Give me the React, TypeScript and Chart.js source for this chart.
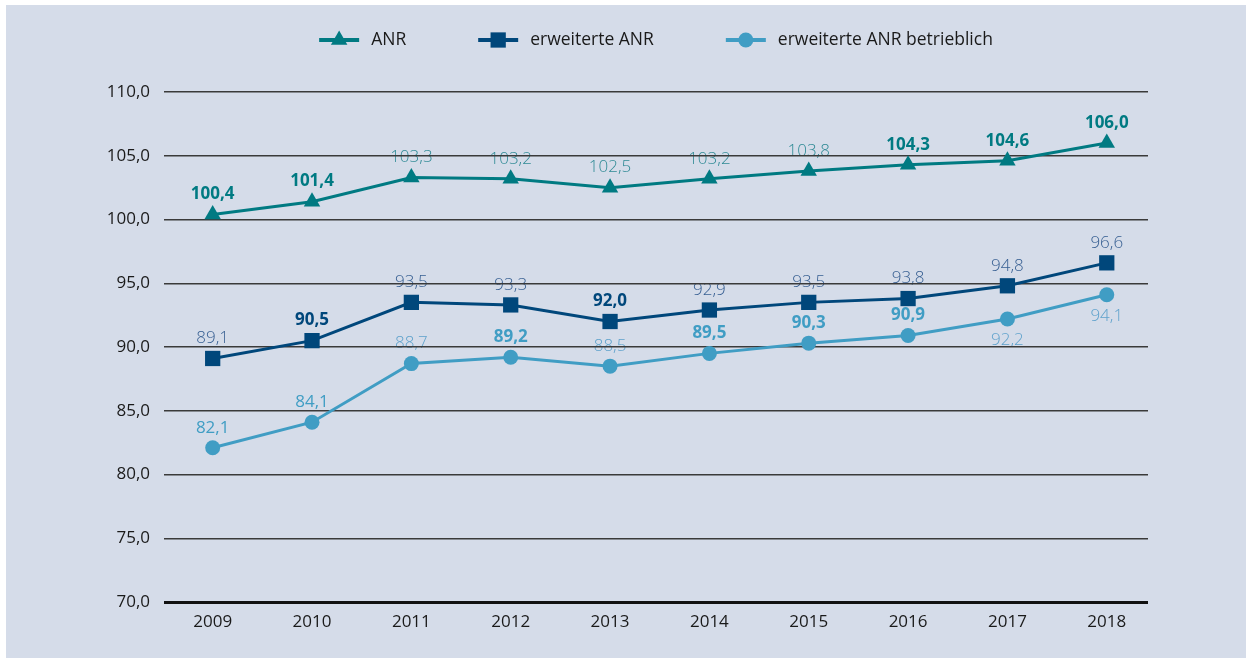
import React, { useEffect, useRef } from "react";
import { Chart, registerables } from "chart.js";

Chart.register(...registerables);

// ---- data ----
const years = [2009, 2010, 2011, 2012, 2013, 2014, 2015, 2016, 2017, 2018];
const anr = [100.4, 101.4, 103.3, 103.2, 102.5, 103.2, 103.8, 104.3, 104.6, 106.0];
const erwAnr = [89.1, 90.5, 93.5, 93.3, 92.0, 92.9, 93.5, 93.8, 94.8, 96.6];
const erwAnrBetr = [82.1, 84.1, 88.7, 89.2, 88.5, 89.5, 90.3, 90.9, 92.2, 94.1];
const seriesNames = ["ANR", "erweiterte ANR", "erweiterte ANR betrieblich"];
const yTicks = [70, 75, 80, 85, 90, 95, 100, 105, 110];

// label emphasis per point: 1 = bold, 0 = light, 2 = regular
const anrEmph = [1, 1, 0, 0, 0, 0, 0, 1, 1, 1];
const erwEmph = [0, 1, 0, 0, 1, 0, 0, 0, 0, 0];
const betrEmph = [2, 2, 0, 1, 0, 1, 1, 1, 0, 0];
// label placed below the point
const anrBelow = [false, false, false, false, false, false, false, false, false, false];
const erwBelow = [false, false, false, false, false, false, false, false, false, false];
const betrBelow = [false, false, false, false, false, false, false, false, true, true];

// ---- styles ----
const FONT = '"Open Sans", "Noto Sans", sans-serif';
const BG = "#d5dce9";
const colors = ["#007a82", "#00477b", "#409dc4"];
const lightColors = ["#2f8a95", "#375f92", "#5fa2cc"];
const pointStyles = ["triangle", "rect", "circle"];
const pointRadii = [9.5, 10.8, 7.5];

const emph = [anrEmph, erwEmph, betrEmph];
const below = [anrBelow, erwBelow, betrBelow];
const series = [anr, erwAnr, erwAnrBetr];

const fmt = (v: number) => v.toFixed(1).replace(".", ",");

function drawMarker(ctx: CanvasRenderingContext2D, style: string, x: number, y: number, r: number, color: string) {
  ctx.fillStyle = color;
  ctx.beginPath();
  if (style === "triangle") {
    ctx.moveTo(x, y - r);
    ctx.lineTo(x + Math.sin((2 * Math.PI) / 3) * r, y + r / 2);
    ctx.lineTo(x - Math.sin((2 * Math.PI) / 3) * r, y + r / 2);
    ctx.closePath();
  } else if (style === "rect") {
    const s = r * Math.SQRT1_2;
    ctx.rect(x - s, y - s, 2 * s, 2 * s);
  } else {
    ctx.arc(x, y, r, 0, Math.PI * 2);
  }
  ctx.fill();
}

function drawLabels(chart: any, lightPass: boolean) {
  const ctx: CanvasRenderingContext2D = chart.ctx;
  ctx.save();
  ctx.textAlign = "center";
  ctx.textBaseline = "middle";
  chart.data.datasets.forEach((_ds: any, di: number) => {
    const meta = chart.getDatasetMeta(di);
    meta.data.forEach((pt: any, i: number) => {
      const kind = emph[di][i];
      const isLight = kind === 0;
      if (isLight !== lightPass) return;
      const weight = kind === 1 ? "bold" : kind === 0 ? "300" : "normal";
      ctx.font = `${weight} 17px ${FONT}`;
      ctx.fillStyle = isLight ? lightColors[di] : colors[di];
      const dy = below[di][i] ? 21 : -20;
      ctx.fillText(fmt(series[di][i]), pt.x, pt.y + dy);
    });
  });
  ctx.restore();
}

const labelPlugin = {
  id: "valueLabels",
  beforeDraw(chart: any) {
    drawLabels(chart, true);
  },
  afterDatasetsDraw(chart: any) {
    drawLabels(chart, false);
  },
};

const legendPlugin = {
  id: "customLegend",
  afterDraw(chart: any) {
    const ctx: CanvasRenderingContext2D = chart.ctx;
    const area = chart.chartArea;
    ctx.save();
    ctx.font = `17.5px ${FONT}`;
    const symW = 40;
    const gapSym = 12;
    const gapItem = 72;
    const widths = seriesNames.map((n) => ctx.measureText(n).width);
    const total = widths.reduce((a, w) => a + symW + gapSym + w, 0) + gapItem * (seriesNames.length - 1);
    let x = (area.left + area.right) / 2 - total / 2;
    const y = 35;
    seriesNames.forEach((name, i) => {
      ctx.strokeStyle = colors[i];
      ctx.lineWidth = 4;
      ctx.beginPath();
      ctx.moveTo(x, y);
      ctx.lineTo(x + symW, y);
      ctx.stroke();
      drawMarker(ctx, pointStyles[i], x + symW / 2, y, pointRadii[i], colors[i]);
      ctx.fillStyle = "#1a1a1a";
      ctx.textAlign = "left";
      ctx.textBaseline = "middle";
      ctx.fillText(name, x + symW + gapSym, y);
      x += symW + gapSym + widths[i] + gapItem;
    });
    ctx.restore();
  },
};

export default function App() {
  const canvasRef = useRef<HTMLCanvasElement | null>(null);

  useEffect(() => {
    if (!canvasRef.current) return;
    const chart = new Chart(canvasRef.current, {
      type: "line",
      data: {
        datasets: series.map((vals, di) => ({
          label: seriesNames[di],
          data: years.map((yr, i) => ({ x: yr, y: vals[i] })),
          borderColor: colors[di],
          backgroundColor: colors[di],
          borderWidth: 3,
          pointStyle: pointStyles[di] as any,
          pointRadius: pointRadii[di],
          pointBorderWidth: 0,
          pointBackgroundColor: colors[di],
          tension: 0,
          clip: false as any,
        })),
      },
      options: {
        animation: false,
        responsive: false,
        events: [],
        layout: { padding: { left: 0, top: 87, right: 98, bottom: 0 } },
        plugins: {
          legend: { display: false },
          tooltip: { enabled: false },
        },
        scales: {
          x: {
            type: "linear",
            min: 2008.51,
            max: 2018.415,
            afterBuildTicks: (axis: any) => {
              axis.ticks = years.map((v) => ({ value: v }));
            },
            afterFit: (axis: any) => {
              axis.height = 56;
            },
            grid: { display: false },
            border: { display: false },
            ticks: {
              callback: (v: any) => String(v),
              color: "#1a1a1a",
              font: { family: FONT, size: 17 },
              padding: 2,
              maxRotation: 0,
            },
          },
          y: {
            min: 70,
            max: 110,
            afterBuildTicks: (axis: any) => {
              axis.ticks = yTicks.map((v) => ({ value: v }));
            },
            afterFit: (axis: any) => {
              axis.width = 158;
            },
            border: { display: false },
            grid: {
              color: (c: any) => (c.tick && c.tick.value === 70 ? "#111111" : "#3a3a3a"),
              lineWidth: (c: any) => (c.tick && c.tick.value === 70 ? 3 : 1.5),
              drawTicks: false,
            },
            ticks: {
              callback: (v: any) => fmt(Number(v)),
              color: "#1a1a1a",
              font: { family: FONT, size: 17 },
              padding: 14,
            },
          },
        },
      },
      plugins: [labelPlugin, legendPlugin],
    });
    return () => chart.destroy();
  }, []);

  return (
    <div
      style={{
        position: "fixed",
        left: 6,
        top: 5,
        width: 1240,
        height: 653,
        background: BG,
      }}
    >
      <canvas ref={canvasRef} width={1240} height={653} style={{ display: "block" }} />
    </div>
  );
}
